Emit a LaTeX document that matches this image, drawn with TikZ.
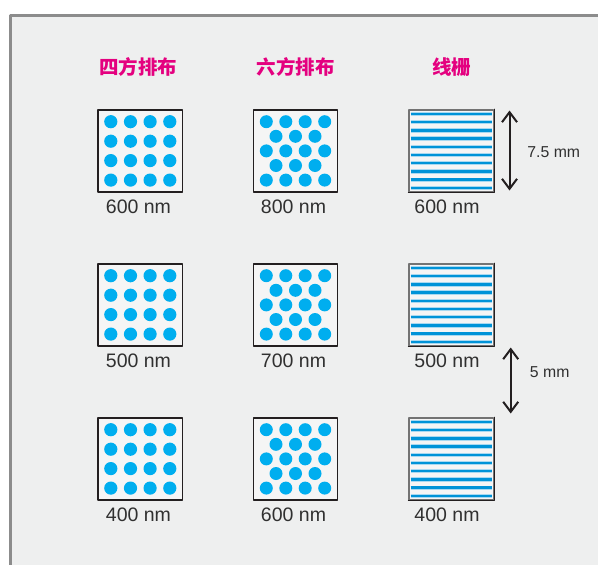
\documentclass[tikz,border=0pt]{standalone}
\usepackage{fontspec}
\setmainfont{Liberation Sans}
\newfontfamily\cjkfont{Noto Sans CJK SC}
\usetikzlibrary{arrows.meta}
\definecolor{panelgray}{HTML}{EEEFEF}
\definecolor{framegray}{HTML}{8C8C8C}
\definecolor{dotblue}{HTML}{00AEEF}
\definecolor{lineblue}{HTML}{0093D8}
\definecolor{haloblue}{HTML}{A9D9F1}
\definecolor{titlemag}{HTML}{E4007F}
\definecolor{txtgray}{HTML}{303030}
\definecolor{boxdark}{HTML}{231F20}
\tikzset{
  title/.style={inner sep=0pt,text=titlemag,font=\cjkfont\bfseries\fontsize{19.5}{20}\selectfont},
  lbl/.style={inner sep=0pt,text=txtgray,font=\fontsize{19.5}{20}\selectfont},
  dimlbl/.style={inner sep=0pt,text=txtgray,font=\fontsize{15.8}{16}\selectfont},
  sample/.style={draw=boxdark,line width=1.2pt,fill=panelgray!60!white,minimum width=84.5pt,minimum height=82pt,inner sep=0pt},
  gratbox/.style={sample,draw=gray!90!black},
  gratline/.style={draw=haloblue,double=lineblue,double distance=2.5pt,line width=0.9pt},
  dimarrow/.style={{Straight Barb[length=10pt,width=15pt]}-{Straight Barb[length=10pt,width=15pt]},line width=2pt,draw=boxdark}
}
\begin{document}
\begin{tikzpicture}[x=1pt,y=-1pt,line join=round,line cap=round]
	\useasboundingbox (0,0) rectangle (598,565);
	\fill[white] (0,0) rectangle (598,565);
	\filldraw[fill=panelgray,draw=framegray,line width=2.7pt,line cap=butt] (10.7,620) |- (640,15.3) |- cycle;
	\node[title] (tsq) at (138.3,67) {四方排布};
	\node[title] (thex) at (295.8,67) {六方排布};
	\node[title] (tgr) at (451.7,67) {线栅};
	\node[sample] (sq600) at (140.3,150.9) {};
	\node[sample] (sq500) at (140.3,304.9) {};
	\node[sample] (sq400) at (140.3,458.9) {};
	\node[sample] (hex800) at (295.5,150.9) {};
	\node[sample] (hex700) at (295.5,304.9) {};
	\node[sample] (hex600) at (295.5,458.9) {};
	\node[gratbox] (gr600) at (451.3,150.9) {};
	\node[gratbox] (gr500) at (451.3,304.9) {};
	\node[gratbox] (gr400) at (451.3,458.9) {};
	\foreach \n in {sq600,sq500,sq400}
		\foreach \x in {-29.5,-9.8,9.8,29.5}
			\foreach \y in {-29.2,-9.7,9.7,29.2}
				\fill[dotblue] ([shift={(\x,\y)}]\n.center) circle (6.6);
	\foreach \n in {hex800,hex700,hex600}{
		\foreach \x in {-29.2,-9.7,9.7,29.2}
			\foreach \y in {-29.2,0,29.2}
				\fill[dotblue] ([shift={(\x,\y)}]\n.center) circle (6.5);
		\foreach \x in {-19.5,0,19.5}
			\foreach \y in {-14.6,14.6}
				\fill[dotblue] ([shift={(\x,\y)}]\n.center) circle (6.5);
	}
	\foreach \n in {gr600,gr500,gr400}{
		\foreach \i [evaluate=\i as \dy using (\i-4.5)*8.22] in {0,...,9}
			\draw[gratline,line cap=butt] ([shift={(-40.6,\dy)}]\n.center) -- ([shift={(40.6,\dy)}]\n.center);
		\draw[boxdark,line width=1.2pt] (\n.north east) |- (\n.south west);
	}
	\node[lbl] (l600a) at (138.5,206.7) {600 nm};
	\node[lbl] (l500a) at (138.5,360.7) {500 nm};
	\node[lbl] (l400a) at (138.5,514.7) {400 nm};
	\node[lbl] (l800b) at (293.5,206.7) {800 nm};
	\node[lbl] (l700b) at (293.5,360.7) {700 nm};
	\node[lbl] (l600b) at (293.5,514.7) {600 nm};
	\node[lbl] (l600c) at (447,206.7) {600 nm};
	\node[lbl] (l500c) at (447,360.7) {500 nm};
	\node[lbl] (l400c) at (447,514.7) {400 nm};
	\coordinate (hitop) at (509.5,110.5);
	\coordinate (hibot) at (509.5,190.5);
	\coordinate (gaptop) at (510.7,347.5);
	\coordinate (gapbot) at (510.7,413.5);
	\draw[dimarrow] (hitop) -- (hibot);
	\draw[dimarrow] (gaptop) -- (gapbot);
	\node[dimlbl] (dim75) at (553.8,151.7) {7.5 mm};
	\node[dimlbl] (dim5) at (549.7,371.7) {5 mm};
\end{tikzpicture}
\end{document}
